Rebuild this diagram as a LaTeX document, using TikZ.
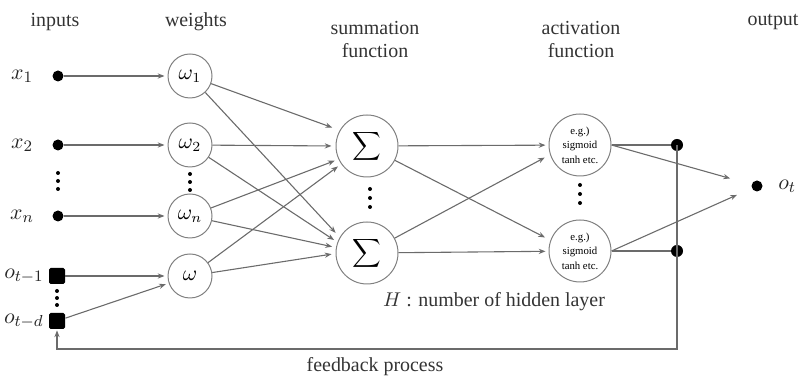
\documentclass[tikz,border=0pt]{standalone}
\usepackage{fontspec}
\setmainfont{Liberation Serif}
\usetikzlibrary{arrows.meta}
\begin{document}
\begin{tikzpicture}[x=0.5bp,y=-0.5bp,
  wire/.style={draw=black!58, line width=0.55pt},
  arr/.style={wire, -{Stealth[length=3.4pt,width=2.6pt]}, shorten >=1.5bp},
  dotnode/.style={circle, fill=black, inner sep=0pt, minimum size=5.5bp},
  bigdot/.style={circle, fill=black, inner sep=0pt, minimum size=6bp},
  sqnode/.style={rectangle, rounded corners=0.8bp, fill=black, inner sep=0pt, minimum size=8bp},
  weight/.style={circle, draw=black!50, line width=0.5pt, minimum size=22bp, inner sep=0pt, font=\fontsize{10.5}{12}\selectfont},
  sumnode/.style={circle, draw=black!50, line width=0.5pt, minimum size=31bp, inner sep=0pt},
  actnode/.style={circle, draw=black!50, line width=0.5pt, minimum size=31bp, inner sep=0pt, align=center, font=\fontsize{5.4}{7.3}\selectfont},
  head/.style={align=center, font=\fontsize{10}{11.5}\selectfont, text=black!80},
  lab/.style={font=\fontsize{11}{12}\selectfont, text=black!85, inner sep=0pt},
  vdot/.style={circle, fill=black, inner sep=0pt, minimum size=2bp}
]
\useasboundingbox (0,0) rectangle (800,377);

% column headings
\node[head] at (55,22) {inputs};
\node[head] at (196,22) {weights};
\node[head, anchor=north] at (375,14) {summation\\function};
\node[head, anchor=north] at (581,14) {activation\\function};
\node[head] at (773,22) {output};

% inputs
\node[dotnode] (x1) at (58,76) {};
\node[dotnode] (x2) at (58,145) {};
\node[dotnode] (xn) at (58,216) {};
\node[sqnode] (o1) at (57,276) {};
\node[sqnode] (od) at (57,321) {};
\node[lab] at (22,76) {$x_1$};
\node[lab] at (22,145) {$x_2$};
\node[lab] at (22,216) {$x_n$};
\node[lab, anchor=east] at (44,276) {$o_{t-1}$};
\node[lab, anchor=east] at (44,321) {$o_{t-d}$};
\foreach \yy in {173,181,189} \node[vdot] at (58,\yy) {};
\foreach \yy in {291,298,305} \node[vdot] at (57,\yy) {};

% weights
\node[weight] (w1) at (190,76) {$\omega_1$};
\node[weight] (w2) at (190,145) {$\omega_2$};
\node[weight] (wn) at (190,216) {$\omega_n$};
\node[weight] (w) at (190,276) {$\omega$};
\foreach \yy in {174,182,190} \node[vdot] at (190,\yy) {};

% summation units
\node[sumnode] (s1) at (367,146) {$\displaystyle\sum$};
\node[sumnode] (s2) at (367,253) {$\displaystyle\sum$};
\foreach \yy in {189,198,207} \node[vdot] at (370,\yy) {};

% activation units
\node[actnode] (a1) at (580,145) {e.g.)\\sigmoid\\tanh etc.};
\node[actnode] (a2) at (580,251) {e.g.)\\sigmoid\\tanh etc.};
\foreach \yy in {185,194,203} \node[vdot] at (580,\yy) {};

% output side
\node[bigdot] (j1) at (677,145) {};
\node[bigdot] (j2) at (677,251) {};
\node[dotnode] (out) at (757,186) {};
\node[lab, anchor=west] at (778,186) {$o_t$};
\coordinate (fbR) at (677,349);
\coordinate (fbL) at (57,349);

% inputs to weights
\draw[arr] (x1) -- (w1);
\draw[arr] (x2) -- (w2);
\draw[arr] (xn) -- (wn);
\draw[arr] (o1) -- (w);
\draw[arr] (od) -- (w);

% weights to summation units
\draw[arr, shorten >=4bp] (w1) -- (s1.150);
\draw[arr, shorten >=2bp] (w2) -- (s1.180);
\draw[arr, shorten >=2bp] (wn) -- (s1.205);
\draw[arr, shorten >=2bp] (w) -- (s1.215);
\draw[arr, shorten >=3bp] (w1) -- (s2.150);
\draw[arr, shorten >=2bp] (w2) -- (s2.160);
\draw[arr, shorten >=2bp] (wn) -- (s2.170);
\draw[arr, shorten >=2bp] (w) -- (s2.181);

% summation to activation
\draw[arr] (s1) -- (a1);
\draw[arr, shorten >=3bp] (s1) -- (a2.160);
\draw[arr, shorten >=3bp] (s2) -- (a1.198);
\draw[arr] (s2) -- (a2);

% activation to output
\draw[wire] (a1) -- (j1);
\draw[wire] (a2) -- (j2);
\draw[arr, shorten >=11bp] (a1.east) -- (out);
\draw[arr, shorten >=8bp] (a2.east) -- (out);

% feedback loop
\draw[arr, shorten >=0.5bp] (j1.center) -- (fbR) -- (fbL) -- (od);

% annotations
\node[head] at (494,302) {$H$ : number of hidden layer};
\node[head] at (375,367) {feedback process};
\end{tikzpicture}
\end{document}
